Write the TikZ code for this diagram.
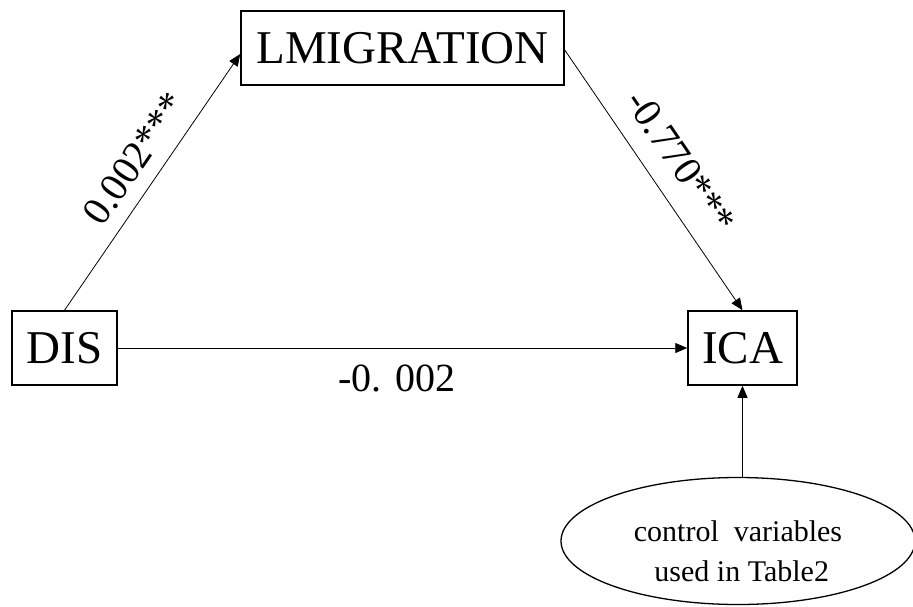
\documentclass[tikz,border=0pt]{standalone}
\usepackage{fontspec}
\setmainfont{Liberation Serif}
\usetikzlibrary{shapes.geometric,arrows.meta}
\begin{document}
\begin{tikzpicture}[x=1pt,y=-1pt,
  varbox/.style={draw,line width=1.5pt,inner sep=0pt,font=\fontsize{47}{52}\selectfont},
  conn/.style={line width=0.8pt,-{Triangle[length=12pt,width=10pt]}},
  coef/.style={font=\fontsize{40}{44}\selectfont,inner sep=2pt},
  ctrl/.style={draw,line width=1.3pt,ellipse,inner sep=0pt,minimum width=354pt,minimum height=127pt}]
\useasboundingbox (0,0) rectangle (913,606);
\node[varbox,minimum width=323pt,minimum height=74pt] (lm) at (402.5,48) {LMIGRATION};
\node[varbox,minimum width=105pt,minimum height=74pt] (dis) at (64.5,348) {DIS};
\node[varbox,minimum width=109pt,minimum height=74pt] (ica) at (742.5,348) {ICA};
\node[ctrl] (ctl) at (738,541) {};
\node[align=center,font=\fontsize{30}{40}\selectfont,inner sep=0pt] (ctltext) at (738,551) {control\ \ variables\\ \ used in Table2};
\draw[conn] (dis.north) -- node[coef,sloped,above=12pt,pos=0.53] {0.002***} ([yshift=-6pt]lm.west);
\draw[conn] ([yshift=-2pt]lm.east) -- node[coef,sloped,above=17pt,pos=0.5] {-0.770***} (ica.north);
\draw[conn] (dis.east) -- node[coef,below=14pt,pos=0.49] {-0. 002} (ica.west);
\draw[conn] (ctl.north -| ica.south) -- (ica.south);
\end{tikzpicture}
\end{document}
